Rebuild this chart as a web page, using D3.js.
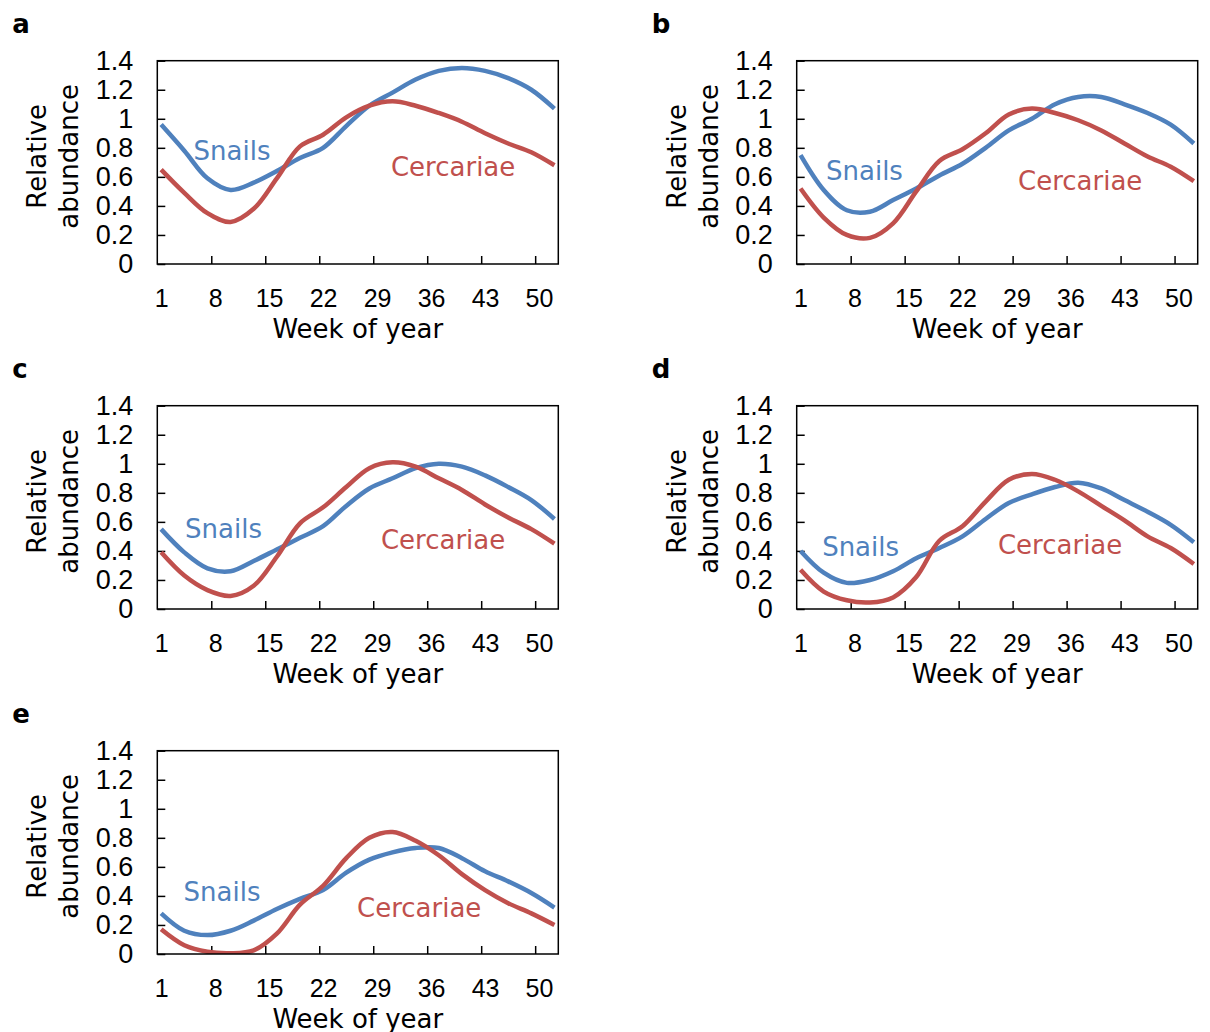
<!DOCTYPE html>
<html lang="en">
<head>
    <meta charset="utf-8">
    <title>Snails and cercariae</title>
    <style>
        html, body {margin: 0;padding: 0;background: #fff;}
        svg {display: block;font-family: "DejaVu Sans", Verdana, sans-serif;}
        .tick text {fill: #000;}
        .yaxis .tick text {font-size: 27px;}
        .xaxis .tick text {font-size: 25px;}
        .axis path.domain {display: none;}
        .axis line {stroke: #000;stroke-width: 1.5;}
        .frame {fill: none;stroke: #000;stroke-width: 1.5;}
        .curve {fill: none;stroke-width: 4.5;stroke-linejoin: round;stroke-linecap: butt;}
    </style>
</head>
<body>
<div id="chart"></div>
<script src="https://cdnjs.cloudflare.com/ajax/libs/d3/7.8.5/d3.min.js"></script>
<script>
  var weeks = [1, 4, 7, 10, 13, 16, 19, 22, 25, 28, 31, 34, 37, 40, 43, 46, 49, 52];

  var snailsA = [0.96, 0.78, 0.59, 0.51, 0.56, 0.64, 0.73, 0.80, 0.95, 1.09, 1.18, 1.27, 1.33, 1.35, 1.33, 1.28, 1.20, 1.07];
  var cercA   = [0.65, 0.49, 0.35, 0.29, 0.38, 0.59, 0.81, 0.89, 1.01, 1.09, 1.12, 1.09, 1.04, 0.98, 0.90, 0.83, 0.77, 0.68];

  var snailsB = [0.75, 0.51, 0.37, 0.36, 0.44, 0.52, 0.61, 0.69, 0.80, 0.92, 1.00, 1.10, 1.15, 1.15, 1.10, 1.04, 0.96, 0.83];
  var cercB   = [0.52, 0.32, 0.20, 0.18, 0.28, 0.50, 0.71, 0.79, 0.90, 1.03, 1.07, 1.04, 0.99, 0.92, 0.83, 0.74, 0.67, 0.57];

  var snailsC = [0.55, 0.39, 0.28, 0.26, 0.33, 0.41, 0.49, 0.57, 0.71, 0.83, 0.90, 0.97, 1.00, 0.98, 0.92, 0.84, 0.75, 0.62];
  var cercC   = [0.39, 0.23, 0.13, 0.09, 0.16, 0.36, 0.59, 0.70, 0.84, 0.97, 1.01, 0.98, 0.90, 0.82, 0.72, 0.63, 0.55, 0.45];

  var snailsD = [0.40, 0.25, 0.18, 0.20, 0.26, 0.35, 0.42, 0.50, 0.62, 0.73, 0.79, 0.84, 0.87, 0.83, 0.75, 0.67, 0.58, 0.46];
  var cercD   = [0.27, 0.12, 0.06, 0.045, 0.08, 0.22, 0.47, 0.57, 0.74, 0.89, 0.93, 0.89, 0.81, 0.71, 0.61, 0.50, 0.42, 0.31];

  var snailsE = [0.28, 0.16, 0.13, 0.16, 0.23, 0.31, 0.38, 0.44, 0.56, 0.65, 0.70, 0.73, 0.73, 0.66, 0.57, 0.50, 0.42, 0.32];
  var cercE   = [0.17, 0.06, 0.015, 0.005, 0.025, 0.14, 0.34, 0.47, 0.66, 0.80, 0.84, 0.78, 0.68, 0.55, 0.44, 0.35, 0.28, 0.20];

  var panelLetters = ['a', 'b', 'c', 'd', 'e'];
  var snailSeries = [snailsA, snailsB, snailsC, snailsD, snailsE];
  var cercSeries = [cercA, cercB, cercC, cercD, cercE];

  var xTickLabels = [1, 8, 15, 22, 29, 36, 43, 50];
  var xTickMarks = [7.5, 14.5, 21.5, 28.5, 35.5, 42.5, 49.5];
  var yTicks = [0, 0.2, 0.4, 0.6, 0.8, 1, 1.2, 1.4];

  var seriesNames = ['Snails', 'Cercariae'];
  var colors = ['#4F81BD', '#C0504D'];

  // where the in-plot labels sit: [week, value] of the text's left/middle
  var labelSpots = [
    [[5.2, 0.78], [30.8, 0.67]],
    [[4.3, 0.645], [29.2, 0.575]],
    [[4.1, 0.55], [29.5, 0.48]],
    [[3.8, 0.43], [26.6, 0.44]],
    [[3.9, 0.43], [26.4, 0.32]]
  ];

  var W = 1210, H = 1032;
  var plotW = 401, plotH = 203.3;

  var svg = d3.select('#chart').append('svg')
    .attr('width', W)
    .attr('height', H);

  var x = d3.scaleLinear().domain([0.5, 52.5]).range([0, plotW]);
  var y = d3.scaleLinear().domain([0, 1.4]).range([plotH, 0]);

  var line = d3.line()
    .x(function (d) { return x(d[0]); })
    .y(function (d) { return y(d[1]); })
    .curve(d3.curveCatmullRom.alpha(0.5));

  panelLetters.forEach(function (letter, i) {
    var col = i % 2, row = Math.floor(i / 2);
    var left = 157.3 + col * 639.4, top = 60.7 + row * 345;
    var g = svg.append('g').attr('transform', 'translate(' + left + ',' + top + ')');

    svg.append('text')
      .attr('x', left - 145)
      .attr('y', top - 28)
      .attr('font-size', 26)
      .attr('font-weight', 'bold')
      .text(letter);

    g.append('clipPath').attr('id', 'clip-' + letter)
      .append('rect').attr('width', plotW).attr('height', plotH);

    // y axis, ticks pointing in
    g.append('g').attr('class', 'axis yaxis')
      .call(d3.axisLeft(y).tickValues(yTicks).tickSize(-8).tickPadding(24)
        .tickFormat(function (d) { return String(+d.toFixed(1)); }));

    // x labels centred on weeks, tick marks between categories
    g.append('g').attr('class', 'axis xaxis')
      .attr('transform', 'translate(0,' + plotH + ')')
      .call(d3.axisBottom(x).tickValues(xTickLabels).tickSize(0).tickPadding(25));
    g.append('g').attr('class', 'axis')
      .attr('transform', 'translate(0,' + plotH + ')')
      .call(d3.axisBottom(x).tickValues(xTickMarks).tickSize(-8).tickFormat(''));

    var series = [snailSeries[i], cercSeries[i]];
    series.forEach(function (vals, k) {
      g.append('path')
        .attr('class', 'curve')
        .attr('clip-path', 'url(#clip-' + letter + ')')
        .attr('stroke', colors[k])
        .attr('d', line(weeks.map(function (w, j) { return [w, vals[j]]; })));
    });

    g.append('rect').attr('class', 'frame').attr('width', plotW).attr('height', plotH);

    labelSpots[i].forEach(function (p, k) {
      g.append('text')
        .attr('x', x(p[0]))
        .attr('y', y(p[1]))
        .attr('dy', '0.36em')
        .attr('font-size', 26)
        .attr('fill', colors[k])
        .text(seriesNames[k]);
    });

    g.append('text')
      .attr('x', plotW / 2)
      .attr('y', plotH + 74)
      .attr('text-anchor', 'middle')
      .attr('font-size', 26)
      .text('Week of year');

    var yt = g.append('text')
      .attr('transform', 'translate(-111,' + (plotH / 2 - 6) + ') rotate(-90)')
      .attr('text-anchor', 'middle')
      .attr('font-size', 26);
    yt.append('tspan').attr('x', 0).attr('y', 0).text('Relative');
    yt.append('tspan').attr('x', 0).attr('y', 32).text('abundance');
  });
</script>
</body>
</html>
